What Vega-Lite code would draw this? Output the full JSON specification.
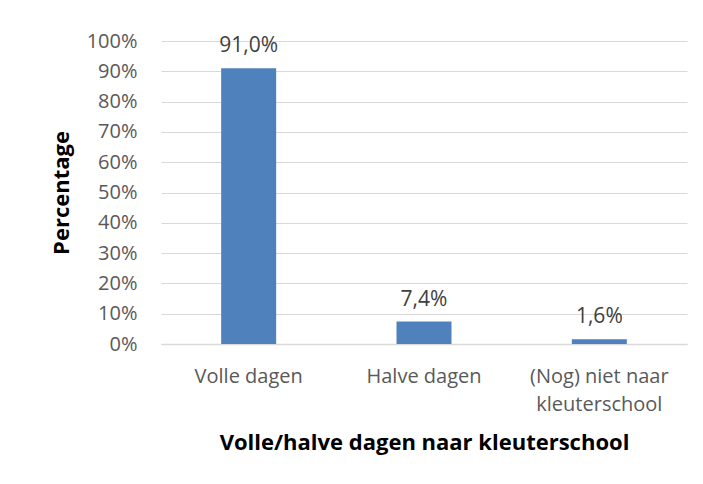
{
  "$schema": "https://vega.github.io/schema/vega-lite/v6.json",
  "width": 526,
  "height": 303,
  "autosize": {"type": "none"},
  "padding": {"left": 161, "top": 41, "right": 16, "bottom": 140},
  "config": {
    "locale": {"number": {"decimal": ",", "thousands": ".", "grouping": [3], "currency": ["€ ", ""]}},
    "view": {"stroke": null},
    "font": "Open Sans"
  },
  "data": {
    "values": [
      {"categorie": "Volle dagen", "aandeel": 0.91},
      {"categorie": "Halve dagen", "aandeel": 0.074},
      {"categorie": "(Nog) niet naar kleuterschool", "aandeel": 0.016}
    ]
  },
  "encoding": {
    "x": {
      "field": "categorie",
      "type": "nominal",
      "sort": null,
      "axis": {
        "title": "Volle/halve dagen naar kleuterschool",
        "titleFontSize": 22,
        "titleFontWeight": "bold",
        "titleColor": "#000000",
        "titlePadding": 18,
        "labelAngle": 0,
        "labelFontSize": 20,
        "labelColor": "#595959",
        "labelPadding": 22,
        "labelLineHeight": 28,
        "labelExpr": "datum.label == '(Nog) niet naar kleuterschool' ? ['(Nog) niet naar', 'kleuterschool'] : datum.label",
        "ticks": false,
        "domainColor": "#d9d9d9",
        "domainWidth": 1.5
      }
    },
    "y": {
      "field": "aandeel",
      "type": "quantitative",
      "scale": {"domain": [0, 1], "nice": false},
      "axis": {
        "title": "Percentage",
        "titleFontSize": 22,
        "titleFontWeight": "bold",
        "titleColor": "#000000",
        "titlePadding": 13,
        "values": [0, 0.1, 0.2, 0.3, 0.4, 0.5, 0.6, 0.7, 0.8, 0.9, 1],
        "format": ".0%",
        "labelFontSize": 20,
        "labelColor": "#595959",
        "labelPadding": 24,
        "ticks": false,
        "domain": false,
        "gridColor": "#d9d9d9",
        "gridWidth": 1
      }
    }
  },
  "layer": [
    {"mark": {"type": "bar", "size": 55, "color": "#4F81BD"}},
    {
      "mark": {"type": "text", "baseline": "bottom", "dy": -12, "fontSize": 21, "color": "#404040"},
      "encoding": {"text": {"field": "aandeel", "type": "quantitative", "format": ".1%"}}
    }
  ]
}
